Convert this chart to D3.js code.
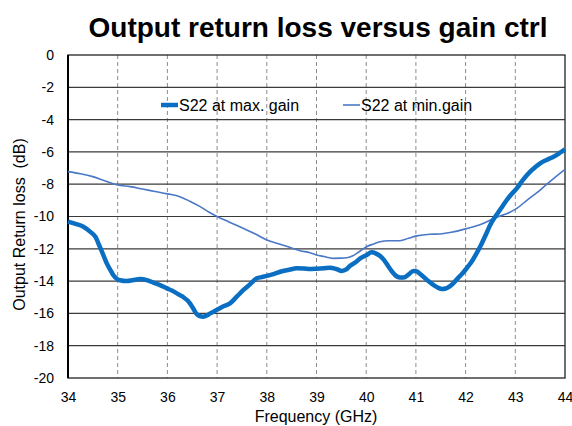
<!DOCTYPE html>
<html><head><meta charset="utf-8">
<script src="https://cdn.jsdelivr.net/npm/d3@7"></script>
<style>
html,body{margin:0;padding:0;background:#fff;}
text{font-family:"Liberation Sans",Arial,sans-serif;fill:#000;}
</style></head>
<body><svg id="c" width="572" height="426"></svg>
<script>
const title = "Output return loss versus gain ctrl";
const xLabel = "Frequency (GHz)";
const yLabel = "Output Return loss  (dB)";
const xTicks = [34,35,36,37,38,39,40,41,42,43,44];
const yTicks = [0,-2,-4,-6,-8,-10,-12,-14,-16,-18,-20];
const seriesNames = ["S22 at max. gain","S22 at min.gain"];

const maxGainFreq = [34.0,34.15,34.31,34.45,34.55,34.64,34.72,34.78,34.85,34.91,34.98,35.05,35.18,35.3,35.45,35.6,35.72,35.85,35.99,36.1,36.19,36.3,36.45,36.52,36.59,36.66,36.72,36.8,36.86,36.93,36.99,37.1,37.26,37.4,37.53,37.66,37.8,37.9,38.0,38.15,38.27,38.45,38.6,38.75,38.87,39.0,39.15,39.27,39.4,39.51,39.6,39.67,39.78,39.88,40.0,40.11,40.2,40.28,40.36,40.45,40.53,40.61,40.68,40.75,40.85,40.95,41.02,41.08,41.15,41.25,41.35,41.45,41.52,41.6,41.68,41.75,41.85,41.93,42.02,42.12,42.22,42.32,42.42,42.49,42.6,42.69,42.8,42.9,43.03,43.15,43.3,43.4,43.5,43.64,43.77,43.9,44.0];
const maxGainVal = [-10.32,-10.45,-10.63,-10.95,-11.25,-11.87,-12.45,-12.9,-13.3,-13.62,-13.85,-13.95,-14.0,-13.95,-13.87,-13.95,-14.1,-14.25,-14.45,-14.6,-14.76,-14.95,-15.36,-15.7,-16.04,-16.18,-16.2,-16.12,-16.0,-15.9,-15.79,-15.6,-15.38,-14.95,-14.55,-14.2,-13.83,-13.75,-13.68,-13.55,-13.42,-13.3,-13.21,-13.22,-13.25,-13.23,-13.2,-13.17,-13.25,-13.37,-13.28,-13.07,-12.85,-12.59,-12.4,-12.22,-12.3,-12.45,-12.7,-13.11,-13.45,-13.7,-13.77,-13.78,-13.6,-13.37,-13.4,-13.55,-13.73,-14.0,-14.24,-14.42,-14.49,-14.46,-14.33,-14.14,-13.8,-13.55,-13.21,-12.8,-12.28,-11.7,-11.04,-10.55,-10.0,-9.6,-9.1,-8.7,-8.26,-7.75,-7.22,-6.95,-6.71,-6.48,-6.3,-6.05,-5.84];

const minGainFreq = [34.0,34.25,34.5,34.75,35.0,35.25,35.5,35.75,36.0,36.25,36.45,36.66,36.85,37.0,37.25,37.5,37.75,38.0,38.25,38.5,38.67,38.87,39.0,39.15,39.33,39.5,39.61,39.72,39.81,39.92,40.01,40.15,40.28,40.45,40.68,40.85,41.02,41.28,41.48,41.75,42.02,42.3,42.62,42.85,43.03,43.25,43.5,43.75,44.0];
const minGainVal = [-7.22,-7.35,-7.53,-7.8,-8.05,-8.15,-8.3,-8.45,-8.6,-8.77,-9.05,-9.39,-9.75,-10.0,-10.35,-10.7,-11.05,-11.45,-11.7,-11.95,-12.12,-12.24,-12.38,-12.48,-12.59,-12.58,-12.55,-12.45,-12.28,-12.05,-11.87,-11.7,-11.56,-11.5,-11.5,-11.35,-11.2,-11.1,-11.08,-10.95,-10.75,-10.5,-10.05,-9.8,-9.5,-8.95,-8.36,-7.7,-7.08];

const svg = d3.select("#c");
const L = 68, R = 565, T = 55, B = 378;
const x = d3.scaleLinear().domain([34,44]).range([L,R]);
const y = d3.scaleLinear().domain([-20,0]).range([B,T]);

// vertical dashed grid
svg.append("g").selectAll("line").data(xTicks.slice(1,-1)).join("line")
  .attr("x1",d=>x(d)).attr("x2",d=>x(d)).attr("y1",T).attr("y2",B)
  .attr("stroke","#8c8c8c").attr("stroke-width",1).attr("stroke-dasharray","4,3");
// horizontal grid
svg.append("g").selectAll("line").data(yTicks.slice(1,-1)).join("line")
  .attr("x1",L).attr("x2",R).attr("y1",d=>y(d)).attr("y2",d=>y(d))
  .attr("stroke","#3a3a3a").attr("stroke-width",1.2);
// border
svg.append("rect").attr("x",L).attr("y",T).attr("width",R-L).attr("height",B-T)
  .attr("fill","none").attr("stroke","#222").attr("stroke-width",1.3);
svg.append("line").attr("x1",L).attr("x2",L).attr("y1",T).attr("y2",B).attr("stroke","#000").attr("stroke-width",2);

// axes (labels only)
const fmt = d => String(d);
const xa = svg.append("g").attr("transform",`translate(0,${B})`)
  .call(d3.axisBottom(x).tickValues(xTicks).tickSize(0).tickPadding(14).tickFormat(fmt));
xa.select(".domain").remove();
xa.selectAll("text").attr("font-size",14).attr("font-family","Liberation Sans, Arial, sans-serif");
const ya = svg.append("g").attr("transform",`translate(${L},0)`)
  .call(d3.axisLeft(y).tickValues(yTicks).tickSize(0).tickPadding(14).tickFormat(fmt));
ya.select(".domain").remove();
ya.selectAll("text").attr("font-size",14).attr("font-family","Liberation Sans, Arial, sans-serif");

const line = d3.line().x(d=>x(d[0])).y(d=>y(d[1])).curve(d3.curveMonotoneX);
const minData = minGainFreq.map((f,i)=>[f,minGainVal[i]]);
const maxData = maxGainFreq.map((f,i)=>[f,maxGainVal[i]]);
svg.append("path").attr("d",line(minData)).attr("fill","none").attr("stroke","#4a78c6").attr("stroke-width",1.6);
svg.append("path").attr("d",line(maxData)).attr("fill","none").attr("stroke","#0a6fc2").attr("stroke-width",4.5).attr("stroke-linejoin","round");

// legend
const leg = svg.append("g");
leg.append("line").attr("x1",161).attr("x2",178).attr("y1",105).attr("y2",105).attr("stroke","#0a6fc2").attr("stroke-width",4.5);
leg.append("text").attr("x",179).attr("y",110.5).attr("font-size",16).text(seriesNames[0]);
leg.append("line").attr("x1",343).attr("x2",360).attr("y1",105).attr("y2",105).attr("stroke","#4a78c6").attr("stroke-width",1.6);
leg.append("text").attr("x",361).attr("y",110.5).attr("font-size",16).text(seriesNames[1]);

// titles
svg.append("text").attr("x",318).attr("y",37).attr("text-anchor","middle")
  .attr("font-size",28).attr("font-weight","bold").text(title);
svg.append("text").attr("x",316).attr("y",421.5).attr("text-anchor","middle")
  .attr("font-size",16).text(xLabel);
svg.append("text").attr("transform","translate(25,224.5) rotate(-90)").attr("text-anchor","middle")
  .attr("font-size",16).style("white-space","pre").text(yLabel);
</script></body></html>
